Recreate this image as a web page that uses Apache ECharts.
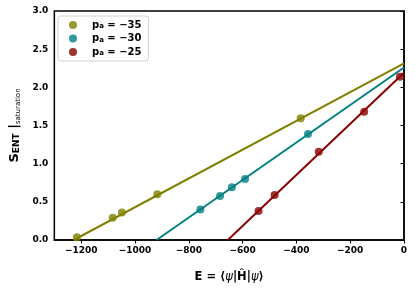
<!DOCTYPE html>
<html><head><meta charset="utf-8">
<script src="https://cdn.jsdelivr.net/npm/echarts@6/dist/echarts.min.js"></script>
<style>html,body{margin:0;padding:0;background:#fff}#c{width:415px;height:290px}</style>
</head><body><div id="c"></div>
<script>
// series labels
const seriesNames = ['−35', '−30', '−25'];
const colors = ['#808000', '#008080', '#8b0000'];
// measured points (E, S)
const ptsE35 = [[-1216, 0.036], [-1083, 0.29], [-1049, 0.36], [-917, 0.60], [-384, 1.594]];
const ptsE30 = [[-757, 0.40], [-684, 0.576], [-640, 0.69], [-591, 0.80], [-357, 1.39]];
const ptsE25 = [[-541, 0.38], [-481, 0.59], [-317, 1.157], [-148, 1.68], [-15, 2.14]];
// fitted lines (endpoints)
const fit35 = [[-1228, 0], [0, 2.315]];
const fit30 = [[-920, 0], [0, 2.26]];
const fit25 = [[-655, 0], [0, 2.19]];
// ticks
const xTicks = [-1200, -1000, -800, -600, -400, -200, 0];

const font = 'DejaVu Sans';
const chart = echarts.init(document.getElementById('c'));
const pts = [ptsE35, ptsE30, ptsE25];
const fits = [fit35, fit30, fit25];
const series = [];
for (let i = 0; i < 3; i++) {
  series.push({
    type: 'line', data: fits[i], showSymbol: false, symbol: 'none',
    lineStyle: {color: colors[i], width: 2}, z: 2, silent: true, animation: false
  });
}
for (let i = 0; i < 3; i++) {
  series.push({
    name: seriesNames[i], type: 'scatter', data: pts[i], symbolSize: 8,
    itemStyle: {color: colors[i], opacity: 0.8}, z: 3, animation: false
  });
}
chart.setOption({
  animation: false,
  grid: {left: 52, right: 11, top: 11, bottom: 50, show: true, borderColor: '#000', borderWidth: 1.5},
  legend: {
    left: 58, top: 16, orient: 'vertical', padding: [4, 7, 4, 11],
    itemWidth: 8, itemHeight: 8, itemGap: 3.5,
    backgroundColor: '#fff', borderColor: '#d0d0d0', borderWidth: 1, borderRadius: 3,
    data: seriesNames.map((n, i) => ({name: n, icon: 'circle', itemStyle: {color: colors[i], opacity: 0.8}})),
    formatter: n => '{p|p}{s|a}{p| = ' + n + '}',
    textStyle: {
      padding: [0, 0, 0, 10],
      rich: {
        p: {fontFamily: font, fontWeight: 'bold', fontSize: 10, lineHeight: 12, color: '#000'},
        s: {fontFamily: font, fontWeight: 'bold', fontSize: 7, lineHeight: 12, color: '#000', padding: [3, 0, 0, 0]}
      }
    }
  },
  xAxis: {
    type: 'value', min: -1300, max: 0,
    axisLine: {lineStyle: {color: '#000', width: 1.5}},
    axisTick: {show: true, length: 3.5, customValues: xTicks, lineStyle: {color: '#000', width: 1}},
    axisLabel: {customValues: xTicks, fontFamily: font, fontWeight: 'bold', fontSize: 9, color: '#000', margin: 6,
      formatter: v => (v < 0 ? '−' + Math.abs(v) : String(v))},
    splitLine: {show: false},
    name: '{e|E = ⟨}{i|ψ}{e||Ĥ|}{i|ψ}{e|⟩}', nameLocation: 'middle', nameGap: 31,
    nameTextStyle: {
      rich: {
        e: {fontFamily: font, fontWeight: 'bold', fontSize: 11.5, color: '#000'},
        i: {fontFamily: font, fontStyle: 'italic', fontSize: 11.5, color: '#000'}
      }
    }
  },
  yAxis: {
    type: 'value', min: 0, max: 3, interval: 0.5,
    axisLine: {lineStyle: {color: '#000', width: 1.5}},
    axisTick: {show: true, length: 3.5, lineStyle: {color: '#000', width: 1}},
    axisLabel: {fontFamily: font, fontWeight: 'bold', fontSize: 9, color: '#000', margin: 6,
      formatter: v => v.toFixed(1)},
    splitLine: {show: false},
    name: '{S|S}{sub|ENT}{S| |}{sat|saturation}', nameLocation: 'middle', nameGap: 31, nameRotate: 90,
    nameTextStyle: {
      rich: {
        S: {fontFamily: font, fontWeight: 'bold', fontSize: 13, color: '#000'},
        sub: {fontFamily: font, fontWeight: 'bold', fontSize: 9, color: '#000', padding: [5, 0, 0, 0]},
        sat: {fontFamily: font, fontSize: 7, color: '#000', padding: [7, 0, 0, 0]}
      }
    }
  },
  series: series
});
</script></body></html>
